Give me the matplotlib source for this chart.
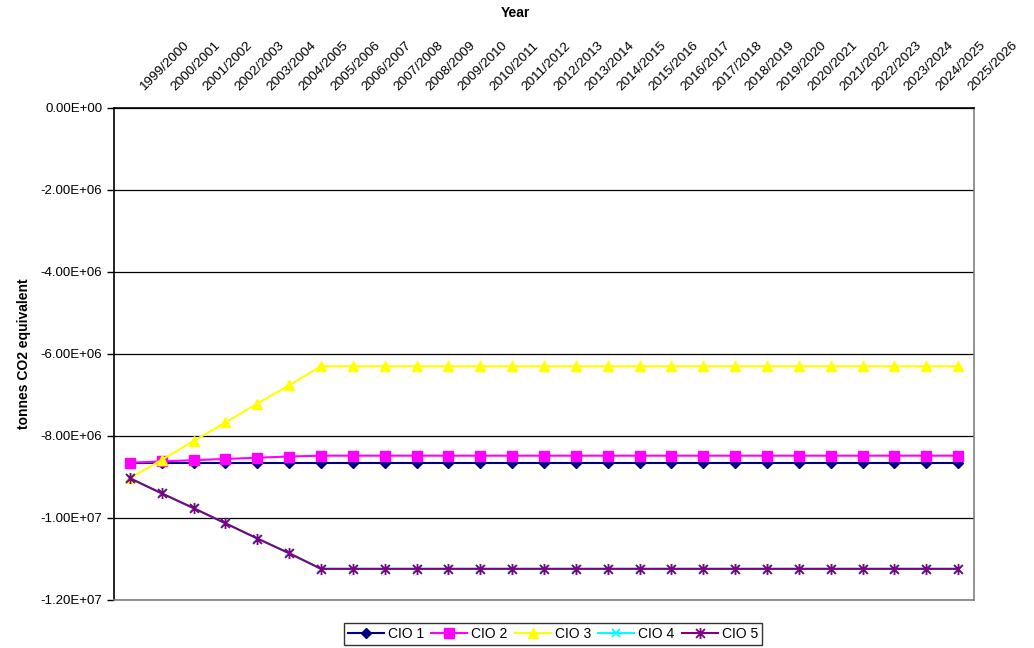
import numpy as np
import matplotlib
matplotlib.use("Agg")
import matplotlib.pyplot as plt
from matplotlib.ticker import FuncFormatter
from matplotlib.path import Path
from matplotlib.transforms import ScaledTranslation

plt.rcParams["font.family"] = ["Liberation Sans", "DejaVu Sans"]

# financial years 1999/2000 .. 2025/2026
years = [f"{y}/{y + 1}" for y in range(1999, 2026)]
n_flat = len(years) - 7

cio1 = [-8.65e6] * 7 + [-8.65e6] * n_flat
cio2 = [-8.65e6, -8.62e6, -8.59e6, -8.56e6, -8.53e6, -8.50e6, -8.48e6] + [-8.48e6] * n_flat
cio3 = [-9.03e6, -8.58e6, -8.12e6, -7.67e6, -7.21e6, -6.76e6, -6.30e6] + [-6.30e6] * n_flat
cio4 = [-9.03e6, -9.40e6, -9.76e6, -10.13e6, -10.50e6, -10.86e6, -11.24e6] + [-11.24e6] * n_flat
cio5 = [-9.03e6, -9.40e6, -9.76e6, -10.13e6, -10.50e6, -10.86e6, -11.24e6] + [-11.24e6] * n_flat

# x with a vertical bar through it
star = Path([(-1, -1), (1, 1), (-1, 1), (1, -1), (0, -1.25), (0, 1.25)],
            [Path.MOVETO, Path.LINETO] * 3)

series = [
    ("CIO 1", cio1, "#000080", "D", 5.5),
    ("CIO 2", cio2, "#ff00ff", "s", 7),
    ("CIO 3", cio3, "#ffff00", "^", 7.5),
    ("CIO 4", cio4, "#00ffff", "x", 6),
    ("CIO 5", cio5, "#800080", star, 8),
]

fig = plt.figure(figsize=(10.34, 6.48), dpi=100)
ax = fig.add_axes([114 / 1034, 1 - 600 / 648, 860 / 1034, 492 / 648])

x = np.arange(len(years))
for name, vals, col, mk, ms in series:
    if mk == "x" or isinstance(mk, Path):
        kw = dict(mec=col, mew=1.3)
    else:
        kw = dict(mec=col, mfc=col)
    ax.plot(x, vals, color=col, lw=1.5, marker=mk, ms=ms, label=name, **kw)

ax.set_xlim(-0.5, len(years) - 0.5)
ax.set_ylim(-1.2e7, 0)
ax.set_yticks(np.arange(-1.2e7, 1, 2e6))
ax.yaxis.set_major_formatter(FuncFormatter(lambda v, p: f"{v:.2E}" if v != 0 else "0.00E+00"))
ax.grid(axis="y", color="black", lw=0.9)
ax.set_axisbelow(True)

ax.xaxis.tick_top()
ax.set_xticks(x)
ax.set_xticklabels(years, rotation=45, ha="left", va="bottom", rotation_mode="anchor")
ax.tick_params(axis="x", length=0, pad=6, labelsize=9.7)
ax.tick_params(axis="y", length=5, width=1, labelsize=9.5, direction="out")
shift = ScaledTranslation(16 / 100, 7 / 100, fig.dpi_scale_trans)
for lbl in ax.get_xticklabels():
    lbl.set_transform(lbl.get_transform() + shift)

for s in ("left", "top"):
    ax.spines[s].set_color("black")
    ax.spines[s].set_linewidth(1.2)
for s in ("right", "bottom"):
    ax.spines[s].set_color("#808080")
    ax.spines[s].set_linewidth(1.2)

fig.text(515 / 1034, 1 - 13 / 648, "Year", ha="center", va="center",
         fontsize=10, fontweight="bold")
fig.text(24 / 1034, 1 - 354 / 648, "tonnes CO2 equivalent", ha="center", va="center",
         rotation=90, fontsize=10, fontweight="bold")

leg = fig.legend(loc="center", bbox_to_anchor=(553 / 1034, 1 - 634 / 648), ncol=5,
                 fontsize=10, frameon=True, fancybox=False, handlelength=2.6,
                 columnspacing=0.5, handletextpad=0.3, borderpad=0.3, borderaxespad=0)
leg.get_frame().set_edgecolor("black")
leg.get_frame().set_linewidth(1)

fig.savefig("out.png", dpi=100)
